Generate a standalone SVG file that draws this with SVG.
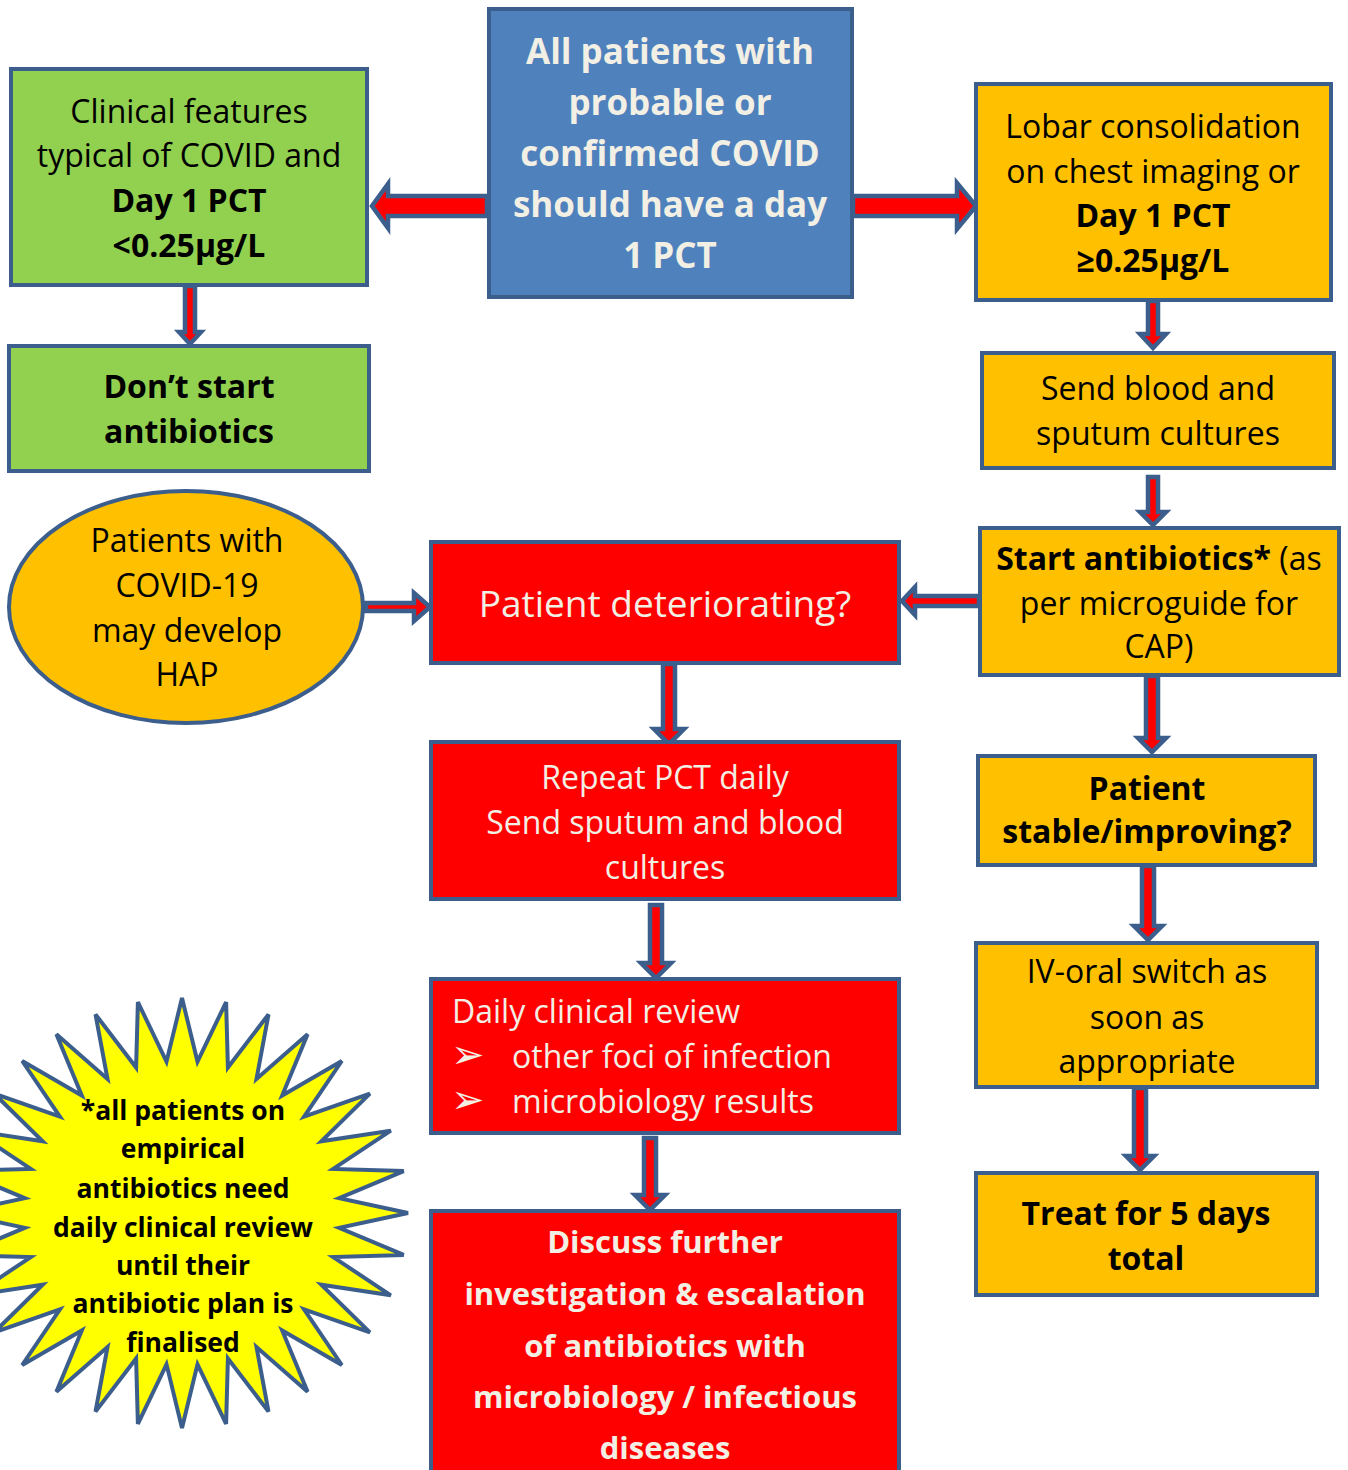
<svg xmlns="http://www.w3.org/2000/svg" width="1348" height="1470" viewBox="0 0 1348 1470">
<style>
.box{stroke:#3C5E8C;stroke-width:4;}
.g{fill:#92D050;}
.o{fill:#FFC000;}
.r{fill:#FF0000;}
.b{fill:#4F81BD;}
.arr{fill:#FF0000;stroke:#3C5E8C;stroke-width:4.5;stroke-linejoin:miter;}
text{font-family:"Open Sans","Noto Sans","Liberation Sans",sans-serif;}
.t{font-size:32px;fill:#000;text-anchor:middle;}
.tb{font-size:32px;fill:#000;text-anchor:middle;font-weight:bold;}
.w{fill:#F2EFE4;}
.bul{font-family:"DejaVu Sans",sans-serif;font-size:40px;fill:#F2EFE4;}
</style>
<rect width="1348" height="1470" fill="#FFFFFF"/>
<g id="connectors">
<polygon class="arr" points="487,196 388,196 388,184 372,206 388,228 388,216 487,216"/>
<polygon class="arr" points="853,196 957,196 957,183 976,206 957,229 957,216 853,216"/>
<polygon class="arr" points="185,286 195,286 195,332 201,332 190,344 179,332 185,332"/>
<polygon class="arr" points="1148,301 1158,301 1158,334 1166,334 1153,348 1140,334 1148,334"/>
<polygon class="arr" points="1148,477 1158,477 1158,512 1166,512 1153,525 1140,512 1148,512"/>
<polygon class="arr" points="1146,676 1158,676 1158,738 1166,738 1152,752 1138,738 1146,738"/>
<polygon class="arr" points="1142,866 1154,866 1154,926 1162,926 1148,940 1134,926 1142,926"/>
<polygon class="arr" points="1134,1088 1146,1088 1146,1156 1154,1156 1140,1170 1126,1156 1134,1156"/>
<polygon class="arr" points="663,664 675,664 675,729 684,729 669,744 654,729 663,729"/>
<polygon class="arr" points="650,905 662,905 662,963 671,963 656,978 641,963 650,963"/>
<polygon class="arr" points="644,1138 656,1138 656,1195 665,1195 650,1210 635,1195 644,1195"/>
<polygon class="arr" points="366,603 414,603 414,593 430,607 414,621 414,611 366,611"/>
<polygon class="arr" points="979,596 915,596 915,587 902,601 915,615 915,606 979,606"/>
</g>
<g id="start">
<rect class="box b" x="489" y="9" width="363" height="288"/>
<text class="tb w" style="font-size:35px" x="670" y="64">All patients with</text>
<text class="tb w" style="font-size:35px" x="670" y="115">probable or</text>
<text class="tb w" style="font-size:35px" x="670" y="166">confirmed COVID</text>
<text class="tb w" style="font-size:35px" x="670" y="217">should have a day</text>
<text class="tb w" style="font-size:35px" x="670" y="268">1 PCT</text>
</g>
<g id="low-pct">
<rect class="box g" x="11" y="69" width="356" height="216"/>
<text class="t" x="189" y="123">Clinical features</text>
<text class="t" x="189" y="167">typical of COVID and</text>
<text class="tb" x="189" y="212">Day 1 PCT</text>
<text class="tb" x="189" y="257">&lt;0.25µg/L</text>
</g>
<g id="no-abx">
<rect class="box g" x="9" y="346" width="360" height="125"/>
<text class="tb" x="189" y="398">Don’t start</text>
<text class="tb" x="189" y="443">antibiotics</text>
</g>
<g id="high-pct">
<rect class="box o" x="976" y="84" width="355" height="216"/>
<text class="t" x="1153" y="138">Lobar consolidation</text>
<text class="t" x="1153" y="183">on chest imaging or</text>
<text class="tb" x="1153" y="227">Day 1 PCT</text>
<text class="tb" x="1153" y="272">≥0.25µg/L</text>
</g>
<g id="cultures">
<rect class="box o" x="982" y="353" width="352" height="115"/>
<text class="t" x="1158" y="400">Send blood and</text>
<text class="t" x="1158" y="445">sputum cultures</text>
</g>
<g id="start-abx">
<rect class="box o" x="980" y="528" width="359" height="147"/>
<text class="t" x="1159" y="570"><tspan font-weight="bold">Start antibiotics*</tspan> (as</text>
<text class="t" x="1159" y="615">per microguide for</text>
<text class="t" x="1159" y="658">CAP)</text>
</g>
<g id="stable">
<rect class="box o" x="978" y="756" width="337" height="109"/>
<text class="tb" x="1147" y="800">Patient</text>
<text class="tb" x="1147" y="843">stable/improving?</text>
</g>
<g id="iv-oral">
<rect class="box o" x="976" y="943" width="341" height="144"/>
<text class="t" x="1147" y="983">IV-oral switch as</text>
<text class="t" x="1147" y="1029">soon as</text>
<text class="t" x="1147" y="1073">appropriate</text>
</g>
<g id="treat">
<rect class="box o" x="976" y="1173" width="341" height="122"/>
<text class="tb" x="1146" y="1225">Treat for 5 days</text>
<text class="tb" x="1146" y="1270">total</text>
</g>
<g id="hap">
<ellipse class="box o" cx="186" cy="607" rx="177" ry="116"/>
<text class="t" x="187" y="552">Patients with</text>
<text class="t" x="187" y="597">COVID-19</text>
<text class="t" x="187" y="642">may develop</text>
<text class="t" x="187" y="686">HAP</text>
</g>
<g id="deteriorating">
<rect class="box r" x="431" y="542" width="468" height="121"/>
<text class="t w" style="font-size:37px" x="665" y="617">Patient deteriorating?</text>
</g>
<g id="repeat-pct">
<rect class="box r" x="431" y="742" width="468" height="157"/>
<text class="t w" x="665" y="789">Repeat PCT daily</text>
<text class="t w" x="665" y="834">Send sputum and blood</text>
<text class="t w" x="665" y="879">cultures</text>
</g>
<g id="review">
<rect class="box r" x="431" y="979" width="468" height="154"/>
<text class="t w" style="text-anchor:start" x="452" y="1023">Daily clinical review</text>
<text class="bul" x="451" y="1068">➢</text>
<text class="t w" style="text-anchor:start" x="512" y="1068">other foci of infection</text>
<text class="bul" x="451" y="1113">➢</text>
<text class="t w" style="text-anchor:start" x="512" y="1113">microbiology results</text>
</g>
<g id="discuss">
<rect class="box r" x="431" y="1211" width="468" height="270"/>
<text class="tb w" style="font-size:31px" x="665" y="1253">Discuss further</text>
<text class="tb w" style="font-size:31px" x="665" y="1305">investigation &amp; escalation</text>
<text class="tb w" style="font-size:31px" x="665" y="1357">of antibiotics with</text>
<text class="tb w" style="font-size:31px" x="665" y="1408">microbiology / infectious</text>
<text class="tb w" style="font-size:31px" x="665" y="1459">diseases</text>
</g>
<g id="note">
<polygon fill="#FFFF00" stroke="#3C5E8C" stroke-width="4" stroke-linejoin="miter" points="408,1213 339.2,1198.1 403.7,1171.1 333.2,1168.9 390.8,1130.7 321.3,1141.3 369.9,1093.6 304.1,1116.6 341.8,1061 282.2,1095.5 307.6,1034.2 256.5,1078.9 268.5,1014.4 227.9,1067.5 226.1,1002.1 197.5,1061.7 182,998 166.5,1061.7 137.9,1002.1 136.1,1067.5 95.5,1014.4 107.5,1078.9 56.4,1034.2 81.8,1095.5 22.2,1061 59.9,1116.6 -5.9,1093.6 42.7,1141.3 -26.8,1130.7 30.8,1168.9 -39.7,1171.1 24.8,1198.1 -44,1213 24.8,1227.9 -39.7,1254.9 30.8,1257.1 -26.8,1295.3 42.7,1284.7 -5.9,1332.4 59.9,1309.4 22.2,1365 81.8,1330.5 56.4,1391.8 107.5,1347.1 95.5,1411.6 136.1,1358.5 137.9,1423.9 166.5,1364.3 182,1428 197.5,1364.3 226.1,1423.9 227.9,1358.5 268.5,1411.6 256.5,1347.1 307.6,1391.8 282.2,1330.5 341.8,1365 304.1,1309.4 369.9,1332.4 321.3,1284.7 390.8,1295.3 333.2,1257.1 403.7,1254.9 339.2,1227.9"/>
<text class="tb" style="font-size:26.5px" x="183" y="1120">*all patients on</text>
<text class="tb" style="font-size:26.5px" x="183" y="1158">empirical</text>
<text class="tb" style="font-size:26.5px" x="183" y="1198">antibiotics need</text>
<text class="tb" style="font-size:26.5px" x="183" y="1237">daily clinical review</text>
<text class="tb" style="font-size:26.5px" x="183" y="1275">until their</text>
<text class="tb" style="font-size:26.5px" x="183" y="1313">antibiotic plan is</text>
<text class="tb" style="font-size:26.5px" x="183" y="1352">finalised</text>
</g>
</svg>
